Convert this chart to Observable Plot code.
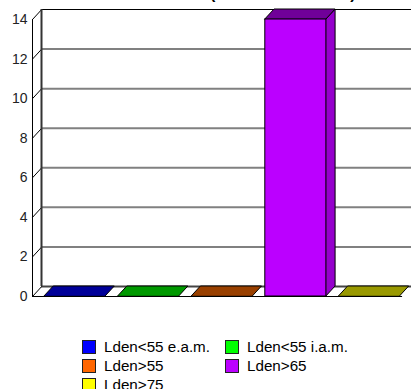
<!DOCTYPE html>
<html><head><meta charset="utf-8">
<script src="https://cdn.jsdelivr.net/npm/d3@7"></script>
<script src="https://cdn.jsdelivr.net/npm/@observablehq/plot@0.6"></script>
<style>
html,body{margin:0;padding:0;background:#fff;overflow:hidden;width:411px;height:389px;font-family:"Liberation Sans",Arial,sans-serif;color:#000}
#wrap{position:relative;width:411px;height:389px;overflow:hidden}
#title{position:absolute;left:210px;top:-15px;font:bold 16px "Liberation Sans",Arial,sans-serif;white-space:pre}
#title span{display:inline-block;width:135px}
svg{display:block;position:absolute;left:0;top:0}
#legend{position:absolute;left:82px;top:340px;display:grid;grid-template-columns:143px auto;grid-auto-rows:19px;font-size:15.2px;line-height:13px}
#legend div{display:flex;align-items:flex-start;white-space:nowrap}
#legend i{display:block;box-sizing:border-box;width:14px;height:14px;border:1px solid #222;margin-right:8px}
</style></head><body>
<div id="wrap"><div id="title">(<span></span>)</div><div id="plot"></div><div id="legend"></div></div>
<script>
const categories = ["Lden<55 e.a.m.", "Lden<55 i.a.m.", "Lden>55", "Lden>65", "Lden>75"];
const values = [0, 0, 0, 14, 0];
const legendColors = ["#0000ff", "#00ff00", "#ff6600", "#bb00ff", "#ffff00"];
const topColors = ["#000099", "#009900", "#994000", "#700099", "#999900"];
const sideColors = ["#0000cc", "#00cc00", "#cc5200", "#9500cc", "#cccc00"];
const yTicks = [0, 2, 4, 6, 8, 10, 12, 14];

const barW = 0.83, depthX = 0.125, depthY = 0.505, x0 = -0.163, xEnd = 4.865;
const px = 9, py = -10;
const bars = categories.map((c, i) => ({c, i, v: values[i], top: topColors[i], side: sideColors[i], front: legendColors[i]}));

const topFace = bars.flatMap(b => [0, 1].map(t => ({
  key: b.c, fill: b.top, y: b.v + t * depthY, x1: b.i + t * depthX, x2: b.i + barW + t * depthX})));
const sideFace = bars.filter(b => b.v > 0).flatMap(b => [0, 1].map(t => ({
  key: b.c, fill: b.side, x: b.i + barW + t * depthX, y1: t * depthY, y2: b.v + t * depthY})));

const chart = Plot.plot({
  width: 411, height: 320,
  marginLeft: 32, marginRight: 0, marginTop: 19, marginBottom: 24,
  style: {fontFamily: '"Liberation Sans",Arial,sans-serif', fontSize: "14px", background: "transparent", overflow: "visible"},
  x: {domain: [0, 5], range: [44, 412], axis: null},
  y: {domain: [0, 14], range: [296, 19], axis: null},
  marks: [
    Plot.ruleY(yTicks.filter(t => t > 0 && t < 14), {y: d => d, x1: x0, x2: xEnd, dx: px, dy: py, stroke: "#808080", strokeWidth: 2}),
    Plot.ruleY([14], {y: d => d, x1: x0, x2: xEnd, dx: px, dy: py, stroke: "#000", strokeWidth: 1}),
    Plot.ruleY([0], {y: d => d, x1: x0, x2: xEnd, dx: px, dy: py, stroke: "#444", strokeWidth: 2}),
    Plot.ruleY([0], {y: d => d, x1: x0, x2: xEnd, stroke: "#000", strokeWidth: 1.2}),
    Plot.link(yTicks, {x1: x0, x2: x0 + depthX, y1: d => d, y2: d => d + depthY, stroke: "#000", strokeWidth: 1}),
    Plot.ruleX([x0], {x: d => d, y1: 0, y2: 14, stroke: "#000", strokeWidth: 1}),
    Plot.ruleX([x0], {x: d => d, y1: 0, y2: 14, dx: px, dy: py, stroke: "#333", strokeWidth: 2}),
    Plot.axisY(yTicks, {anchor: "left", tickSize: 0, tickPadding: 5, fontSize: 14, fill: "#222", tickFormat: d => d}),
    Plot.areaY(sideFace, {x: "x", y1: "y1", y2: "y2", z: "key", fill: "fill", stroke: "#000", strokeWidth: 1}),
    Plot.areaX(topFace, {y: "y", x1: "x1", x2: "x2", z: "key", fill: "fill", stroke: "#000", strokeWidth: 1}),
    Plot.rect(bars.filter(b => b.v > 0), {x1: b => b.i, x2: b => b.i + barW, y1: 0, y2: "v", fill: "front", stroke: "#000", strokeWidth: 1, inset: 0})
  ]
});
document.getElementById("plot").append(chart);

const lg = document.getElementById("legend");
categories.forEach((c, i) => {
  const d = document.createElement("div");
  const s = document.createElement("i");
  s.style.background = legendColors[i];
  d.append(s, document.createTextNode(c));
  lg.append(d);
});
</script></body></html>
